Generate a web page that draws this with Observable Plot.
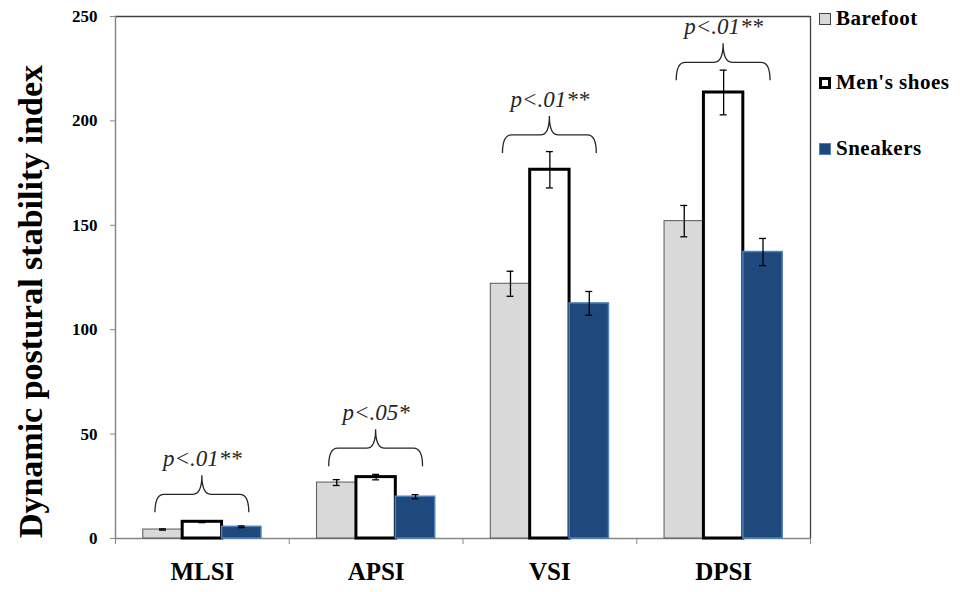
<!DOCTYPE html>
<html><head><meta charset="utf-8">
<script src="https://cdn.jsdelivr.net/npm/d3@7"></script>
<script src="https://cdn.jsdelivr.net/npm/@observablehq/plot@0.6"></script>
<style>
body{margin:0;background:#fff;}
#wrap{position:relative;width:963px;height:592px;overflow:hidden;}
.leg{position:absolute;left:819px;display:flex;align-items:center;font:bold 21px "Liberation Serif";letter-spacing:0.5px;color:#000;white-space:nowrap;}
.sw{width:12px;height:12px;box-sizing:border-box;margin-right:5px;}
</style></head><body><div id="wrap"></div>
<script>
// ---- data ----
const categories = ["MLSI", "APSI", "VSI", "DPSI"];
const series = ["Barefoot", "Men's shoes", "Sneakers"];
const barefoot     = [4.3, 26.8, 122.0, 152.0];
const barefootErr  = [0.3, 1.4, 6.0, 7.5];
const mensShoes    = [8.0, 29.4, 176.6, 213.6];
const mensShoesErr = [0.4, 1.3, 8.7, 10.7];
const sneakers     = [5.6, 20.0, 112.6, 137.2];
const sneakersErr  = [0.4, 1.0, 5.7, 6.5];
const pLabels = ["p<.01**", "p<.05*", "p<.01**", "p<.01**"];
const braceLevel = [12.3, 34.4, 184.4, 219.2];
const yTicks = [0, 50, 100, 150, 200, 250];

// ---- layout/style ----
const BW = 0.2267;      // bar width in category units
const CAP = 0.02;       // half cap width
const BRACE_HALF = 0.27;
const styles = [
  {fill: "#d9d9d9", stroke: "#595959", strokeWidth: 1},
  {fill: "#ffffff", stroke: "#000000", strokeWidth: 3},
  {fill: "#1f497d", stroke: "#4f81bd", strokeWidth: 1.5}
];
const values = [barefoot, mensShoes, sneakers];
const errs = [barefootErr, mensShoesErr, sneakersErr];

const rows = categories.flatMap((c, i) => series.map((s, j) => ({
  cat: c, i, j, series: s, value: values[j][i], err: errs[j][i],
  cx: i + 0.5 + (j - 1) * BW
})));
const braces = categories.map((c, i) => ({i, cx: i + 0.5, level: braceLevel[i], label: pLabels[i]}));

const braceMark = (index, scales) => {
  const g = d3.create("svg:g").attr("fill", "none").attr("stroke", "#262626").attr("stroke-width", 1.3);
  braces.forEach(b => {
    const xm = scales.x(b.cx), xL = scales.x(b.cx - BRACE_HALF), xR = scales.x(b.cx + BRACE_HALF);
    const yb = scales.y(b.level), yh = yb - 18, yp = yb - 37, r = 9;
    g.append("path").attr("d",
      `M${xL},${yb} Q${xL},${yh} ${xL + r},${yh} L${xm - r},${yh} Q${xm},${yh} ${xm},${yp} ` +
      `Q${xm},${yh} ${xm + r},${yh} L${xR - r},${yh} Q${xR},${yh} ${xR},${yb}`);
  });
  return g.node();
};

const barMarks = series.map((s, j) => Plot.rectY(rows.filter(d => d.j === j), {
  x1: d => d.cx - BW / 2, x2: d => d.cx + BW / 2, y: "value", ...styles[j]
}));

const plot = Plot.plot({
  width: 963, height: 592,
  marginLeft: 115, marginRight: 153, marginTop: 16, marginBottom: 54,
  x: {type: "linear", domain: [0, 4]},
  y: {domain: [0, 250]},
  style: {background: "transparent"},
  marks: [
    Plot.ruleY([250], {stroke: "#404040", strokeWidth: 1.3}),
    Plot.ruleX([4], {stroke: "#404040", strokeWidth: 1.3}),
    Plot.ruleX([0], {stroke: "#868686", strokeWidth: 1.5}),
    Plot.ruleY([0], {stroke: "#868686", strokeWidth: 1.5}),
    Plot.axisY({ticks: yTicks, tickSize: 5, tickPadding: 13, label: null, stroke: "#868686",
      fontFamily: "Liberation Serif", fontWeight: "bold", fontSize: 17, color: "#000"}),
    Plot.axisX({ticks: [0, 1, 2, 3, 4], tickSize: 6, tickFormat: () => "", label: null, stroke: "#868686"}),
    Plot.axisX({ticks: [0.5, 1.5, 2.5, 3.5], tickSize: 0, tickPadding: 24, tickFormat: t => categories[Math.floor(t)],
      label: null, fontFamily: "Liberation Serif", fontWeight: "bold", fontSize: 25}),
    ...barMarks,
    Plot.ruleX(rows, {x: "cx", y1: d => d.value - d.err, y2: d => d.value + d.err, stroke: "#000", strokeWidth: 1.3}),
    Plot.ruleY(rows, {y: d => d.value + d.err, x1: d => d.cx - CAP, x2: d => d.cx + CAP, stroke: "#000", strokeWidth: 1.3}),
    Plot.ruleY(rows, {y: d => d.value - d.err, x1: d => d.cx - CAP, x2: d => d.cx + CAP, stroke: "#000", strokeWidth: 1.3}),
    braceMark,
    Plot.text(braces, {x: "cx", y: "level", text: "label", dy: -54, fontFamily: "Liberation Serif",
      fontStyle: "italic", fontSize: 23, fill: "#262626"}),
    Plot.text(["Dynamic postural stability index"], {frameAnchor: "left", textAnchor: "middle", dx: -84, dy: 24, rotate: -90,
      fontFamily: "Liberation Serif", fontWeight: "bold", fontSize: 34, fill: "#000"})
  ]
});
const wrap = document.getElementById("wrap");
wrap.appendChild(plot);

// legend
const legTops = [18, 82, 148];
const legSw = [
  "background:#d9d9d9;border:1px solid #404040;",
  "background:#fff;border:3px solid #000;",
  "background:#1f497d;border:1px solid #4f81bd;"
];
series.forEach((s, j) => {
  const el = document.createElement("div");
  el.className = "leg";
  el.style.top = (legTops[j] - 12) + "px";
  el.innerHTML = `<span class="sw" style="${legSw[j]}"></span><span>${s}</span>`;
  wrap.appendChild(el);
});
</script>
</body></html>
